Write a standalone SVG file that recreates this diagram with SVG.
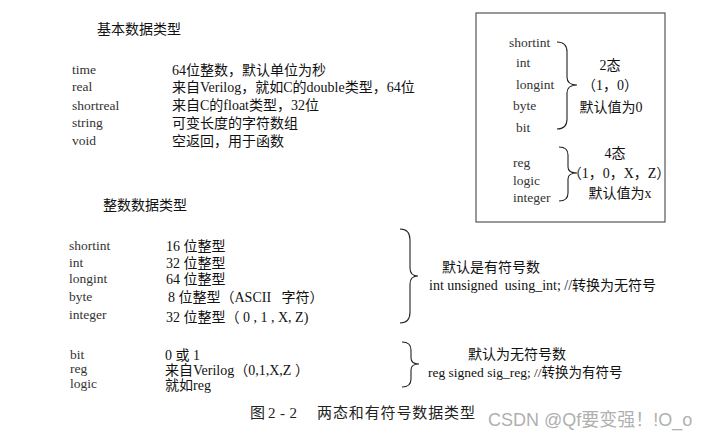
<svg xmlns="http://www.w3.org/2000/svg" width="712" height="444" viewBox="0 0 712 444">
<style>
text{font-family:"Liberation Serif","Noto Sans CJK SC",serif;fill:#111;}
.lb{font-size:13.5px;fill:#333;}
.v{font-size:14px;}
.t{font-size:14px;}
.m{text-anchor:middle;}
.pre{white-space:pre;}
.br{fill:none;stroke:#222;stroke-width:1.1;}
.wm{font-family:"Liberation Sans","Noto Sans CJK SC",sans-serif;font-size:18px;fill:#b0b0b0;}
</style>
<rect width="712" height="444" fill="#fff"/>

<g id="basic">
<text class="t" x="97" y="34">基本数据类型</text>
<text class="lb" x="72" y="74">time</text>
<text class="lb" x="72" y="91">real</text>
<text class="lb" x="72" y="110">shortreal</text>
<text class="lb" x="72" y="127">string</text>
<text class="lb" x="72" y="145">void</text>
<text class="v" x="172" y="75">64位整数，默认单位为秒</text>
<text class="v" x="172" y="92">来自Verilog，就如C的double类型，64位</text>
<text class="v" x="172" y="110">来自C的float类型，32位</text>
<text class="v" x="172" y="128">可变长度的字符数组</text>
<text class="v" x="172" y="146">空返回，用于函数</text>
</g>

<g id="state-box">
<rect x="476" y="13" width="189" height="209" fill="none" stroke="#555" stroke-width="1.2"/>
<text class="lb" x="509" y="47">shortint</text>
<text class="lb" x="516" y="67">int</text>
<text class="lb" x="516" y="89">longint</text>
<text class="lb" x="513" y="110">byte</text>
<text class="lb" x="516" y="132">bit</text>
<text class="v m" x="610" y="70">2态</text>
<text class="v m" x="610" y="90">（1，0）</text>
<text class="v m" x="611" y="112">默认值为0</text>
<text class="lb" x="513" y="167">reg</text>
<text class="lb" x="513" y="185">logic</text>
<text class="lb" x="513" y="202">integer</text>
<text class="v m" x="615" y="158">4态</text>
<text class="v m" x="619" y="178">（1，0，X，Z）</text>
<text class="v m" x="620" y="198">默认值为x</text>
</g>

<g id="integer">
<text class="t" x="103" y="210">整数数据类型</text>
<text class="lb" x="69" y="250">shortint</text>
<text class="lb" x="69" y="267">int</text>
<text class="lb" x="69" y="283">longint</text>
<text class="lb" x="69" y="301">byte</text>
<text class="lb" x="69" y="319">integer</text>
<text class="v" x="166" y="251">16 位整型</text>
<text class="v" x="166" y="268">32 位整型</text>
<text class="v" x="166" y="284">64 位整型</text>
<text class="v pre" x="168" y="302">8 位整型（ASCII   字符）</text>
<text class="v" x="166" y="322">32 位整型（ 0 , 1 , X, Z)</text>
</g>

<g id="signed-note">
<text class="v" x="442" y="272">默认是有符号数</text>
<text class="v pre" x="429" y="290">int unsigned  using_int; //转换为无符号</text>
</g>

<g id="unsigned">
<text class="lb" x="70" y="359">bit</text>
<text class="lb" x="70" y="373">reg</text>
<text class="lb" x="70" y="388">logic</text>
<text class="v" x="165" y="360">0 或 1</text>
<text class="v" x="165" y="375">来自Verilog（0,1,X,Z ）</text>
<text class="v" x="165" y="390">就如reg</text>
</g>

<g id="unsigned-note">
<text class="v" x="468" y="359">默认为无符号数</text>
<text class="v" x="428" y="377" style="font-size:13.5px">reg signed sig_reg; //转换为有符号</text>
</g>

<g id="connectors">
<path class="br" d="M557 42 Q567 42 567 52 L567 77 Q567 85 577 85 Q567 85 567 93 L567 119 Q567 129 557 129"/>
<path class="br" d="M559 147 Q568 147 568 155 L568 167 Q568 173 577 173 Q568 173 568 179 L568 193 Q568 201 559 201"/>
<path class="br" d="M400 229 Q410 229 410 240 L410 268 Q410 276 418 276 Q410 276 410 284 L410 312 Q410 323 400 323"/>
<path class="br" d="M402 342 Q411 342 411 350 L411 358 Q411 364 419 364 Q411 364 411 370 L411 379 Q411 387 402 387"/>
</g>

<g id="caption">
<text style="font-size:15px;fill:#222"><tspan x="250" y="418">图</tspan><tspan x="268" y="418" textLength="29" lengthAdjust="spacing">2-2</tspan><tspan x="317" y="418" textLength="158" lengthAdjust="spacing">两态和有符号数据类型</tspan></text>
</g>

<g id="watermark">
<text class="wm" x="488" y="426">CSDN @Qf要变强！!O_o</text>
</g>
</svg>
